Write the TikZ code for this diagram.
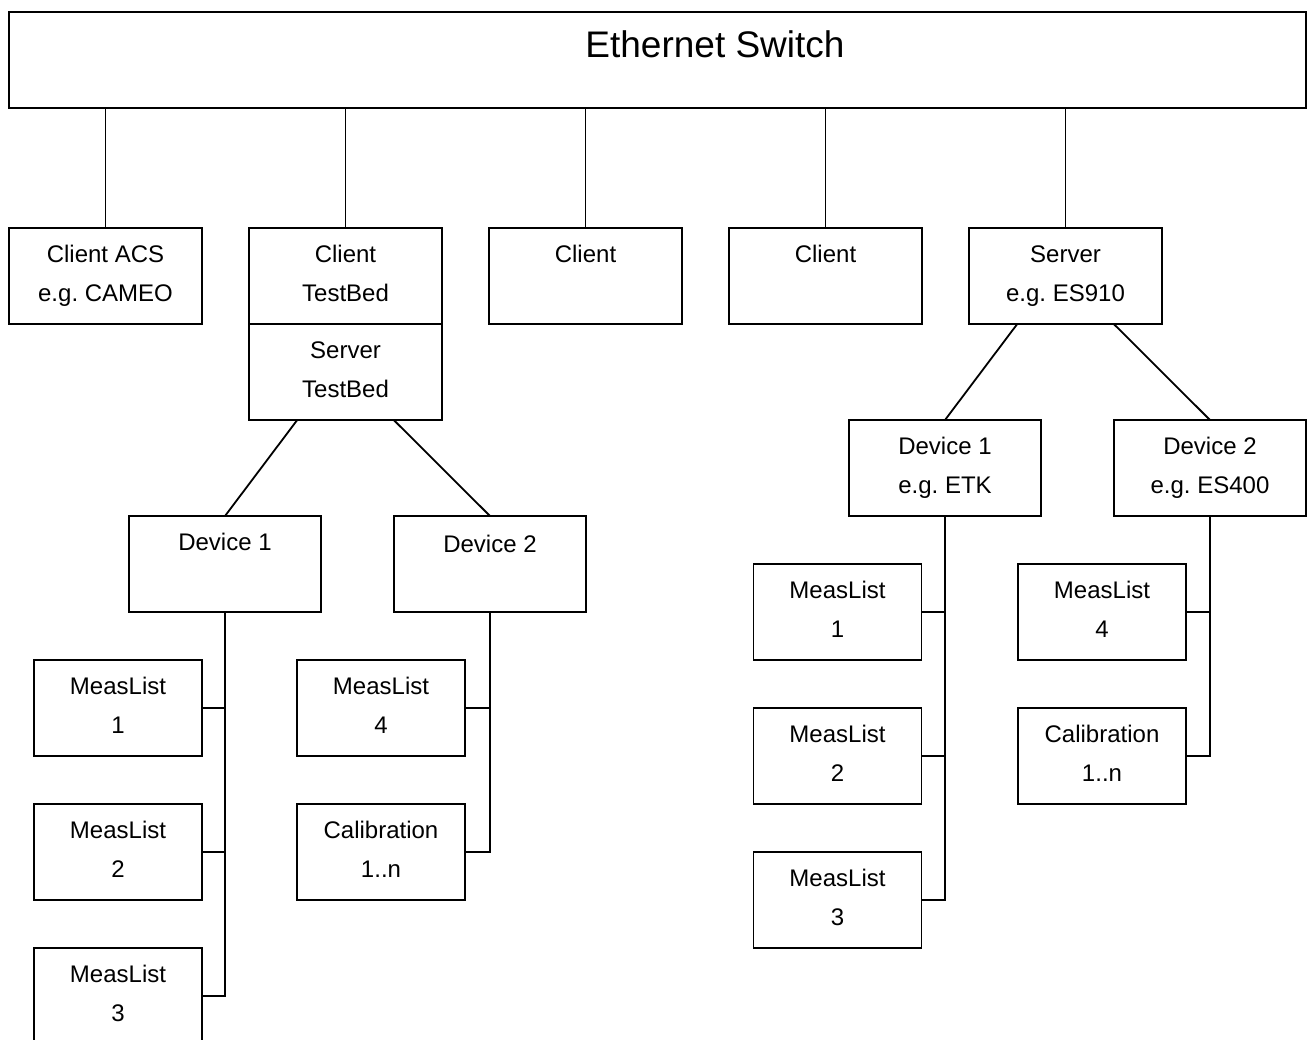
\documentclass[tikz,border=0pt]{standalone}
\usepackage{fontspec}
\setmainfont{Liberation Sans}
\usetikzlibrary{calc}
\frenchspacing
\newcommand\lblstrut{\rule{0pt}{18pt}}
\begin{document}
\begin{tikzpicture}[x=1pt,y=-1pt,
  box/.style={draw,line width=1.8pt,minimum width=#1,minimum height=96pt,inner sep=0pt,outer sep=0pt},
  box/.default=192pt,
  lbl/.style={font=\fontsize{24}{39}\selectfont\frenchspacing,align=center,anchor=north,inner sep=0pt},
  wire/.style={line width=1.8pt}]
\path[use as bounding box,clip] (0,0) rectangle (1314,1040);
\fill[white] (0,0) rectangle (1314,1040);

% switch
\node[box=1297pt,line width=2.2pt] (sw) at (657.5,60) {};
\node[font=\fontsize{37}{44}\selectfont,anchor=base,inner sep=0pt] (swt) at (715,58) {Ethernet Switch};

% first row
\node[box=193pt] (cacs) at (105.5,276) {};
\node[box=193pt] (ctb) at (345.5,276) {};
\node[box=193pt] (stb) at (345.5,372) {};
\node[box=193pt] (c3) at (585.5,276) {};
\node[box=193pt] (c4) at (825.5,276) {};
\node[box=193pt] (srv) at (1065.5,276) {};

% left tree
\node[box] (ld1) at (225,564) {};
\node[box] (ld2) at (490,564) {};
\node[box=168pt] (lm1) at (118,708) {};
\node[box=168pt] (lm2) at (118,852) {};
\node[box=168pt] (lm3) at (118,996) {};
\node[box=168pt] (lm4) at (381,708) {};
\node[box=168pt] (lcal) at (381,852) {};

% right tree
\node[box] (rd1) at (945,468) {};
\node[box] (rd2) at (1210,468) {};
\node[box=168pt] (rm1) at (837.5,612) {};
\node[box=168pt] (rm2) at (837.5,756) {};
\node[box=168pt] (rm3) at (837.5,900) {};
\node[box=168pt] (rm4) at (1102,612) {};
\node[box=168pt] (rcal) at (1102,756) {};

% labels
\node[lbl] (cacsT) at ($(cacs.north)+(0,16)$) {\lblstrut Client ACS\\e.g. CAMEO};
\node[lbl] (ctbT) at ($(ctb.north)+(0,16)$) {\lblstrut Client\\TestBed};
\node[lbl] (stbT) at ($(stb.north)+(0,16)$) {\lblstrut Server\\TestBed};
\node[lbl] (c3T) at ($(c3.north)+(0,16)$) {\lblstrut Client};
\node[lbl] (c4T) at ($(c4.north)+(0,16)$) {\lblstrut Client};
\node[lbl] (srvT) at ($(srv.north)+(0,16)$) {\lblstrut Server\\e.g. ES910};
\node[lbl] (ld1T) at ($(ld1.north)+(0,16)$) {\lblstrut Device 1};
\node[lbl] (ld2T) at ($(ld2.north)+(0,18)$) {\lblstrut Device 2};
\node[lbl] (lm1T) at ($(lm1.north)+(0,16)$) {\lblstrut MeasList\\1};
\node[lbl] (lm2T) at ($(lm2.north)+(0,16)$) {\lblstrut MeasList\\2};
\node[lbl] (lm3T) at ($(lm3.north)+(0,16)$) {\lblstrut MeasList\\3};
\node[lbl] (lm4T) at ($(lm4.north)+(0,16)$) {\lblstrut MeasList\\4};
\node[lbl] (lcalT) at ($(lcal.north)+(0,16)$) {\lblstrut Calibration\\1..n};
\node[lbl] (rd1T) at ($(rd1.north)+(0,16)$) {\lblstrut Device 1\\e.g. ETK};
\node[lbl] (rd2T) at ($(rd2.north)+(0,16)$) {\lblstrut Device 2\\e.g. ES400};
\node[lbl] (rm1T) at ($(rm1.north)+(0,16)$) {\lblstrut MeasList\\1};
\node[lbl] (rm2T) at ($(rm2.north)+(0,16)$) {\lblstrut MeasList\\2};
\node[lbl] (rm3T) at ($(rm3.north)+(0,16)$) {\lblstrut MeasList\\3};
\node[lbl] (rm4T) at ($(rm4.north)+(0,16)$) {\lblstrut MeasList\\4};
\node[lbl] (rcalT) at ($(rcal.north)+(0,16)$) {\lblstrut Calibration\\1..n};

% connectors from switch
\foreach \n in {cacs,ctb,c3,c4,srv}
  \draw[wire] (\n.north |- sw.south) -- (\n.north);

% left tree connectors
\draw[wire] ($(stb.south west)!0.25!(stb.south east)$) -- (ld1.north);
\draw[wire] ($(stb.south west)!0.75!(stb.south east)$) -- (ld2.north);
\draw[wire] (ld1.south) -- (ld1.south |- lm3.east) -- (lm3.east);
\draw[wire] (lm1.east) -- (lm1.east -| ld1.south);
\draw[wire] (lm2.east) -- (lm2.east -| ld1.south);
\draw[wire] (ld2.south) -- (ld2.south |- lcal.east) -- (lcal.east);
\draw[wire] (lm4.east) -- (lm4.east -| ld2.south);

% right tree connectors
\draw[wire] ($(srv.south west)!0.25!(srv.south east)$) -- (rd1.north);
\draw[wire] ($(srv.south west)!0.75!(srv.south east)$) -- (rd2.north);
\draw[wire] (rd1.south) -- (rd1.south |- rm3.east) -- (rm3.east);
\draw[wire] (rm1.east) -- (rm1.east -| rd1.south);
\draw[wire] (rm2.east) -- (rm2.east -| rd1.south);
\draw[wire] (rd2.south) -- (rd2.south |- rcal.east) -- (rcal.east);
\draw[wire] (rm4.east) -- (rm4.east -| rd2.south);
\end{tikzpicture}
\end{document}
